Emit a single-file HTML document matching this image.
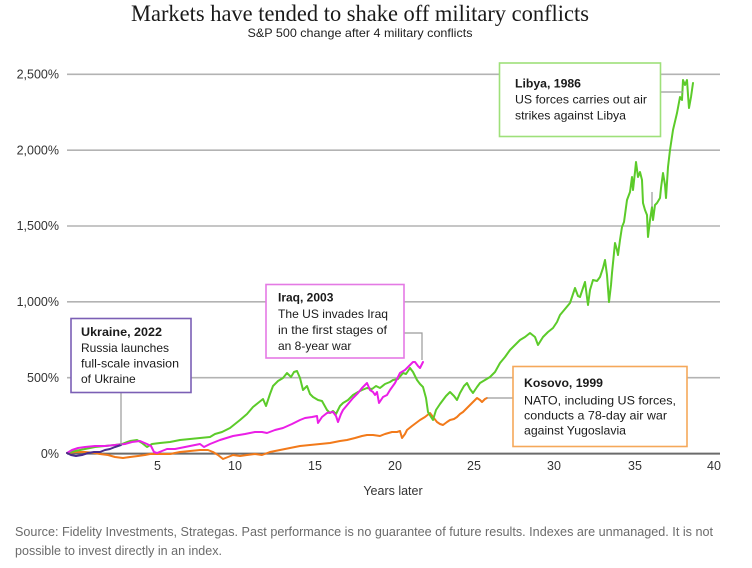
<!DOCTYPE html>
<html>
<head>
<meta charset="utf-8">
<style>
  html, body { margin: 0; padding: 0; background: #ffffff; }
  body { width: 752px; height: 568px; overflow: hidden; }
  svg { display: block; }
  .t { font-family: "Liberation Sans", "DejaVu Sans", sans-serif; }
</style>
</head>
<body>
<svg width="752" height="568" viewBox="0 0 752 568" xmlns="http://www.w3.org/2000/svg">
  <rect x="0" y="0" width="752" height="568" fill="#ffffff"/>

  <!-- Title -->
  <text x="360" y="21" text-anchor="middle" font-family="Liberation Serif, serif" font-size="23" fill="#1a1a1a" textLength="458" lengthAdjust="spacingAndGlyphs">Markets have tended to shake off military conflicts</text>
  <text class="t" x="360" y="37" text-anchor="middle" font-size="12" fill="#222" textLength="225" lengthAdjust="spacingAndGlyphs">S&amp;P 500 change after 4 military conflicts</text>

  <!-- Gridlines -->
  <g stroke="#b3b3b3" stroke-width="1.6">
    <line x1="67" y1="74.3" x2="720" y2="74.3"/>
    <line x1="67" y1="150.2" x2="720" y2="150.2"/>
    <line x1="67" y1="226" x2="720" y2="226"/>
    <line x1="67" y1="301.8" x2="720" y2="301.8"/>
    <line x1="67" y1="377.7" x2="720" y2="377.7"/>
  </g>
  <line x1="67" y1="453.6" x2="720" y2="453.6" stroke="#6b6b6b" stroke-width="2"/>

  <!-- Y labels -->
  <g class="t" font-size="12.5" fill="#333" text-anchor="end">
    <text x="59" y="78.5">2,500%</text>
    <text x="59" y="154.4">2,000%</text>
    <text x="59" y="230.2">1,500%</text>
    <text x="59" y="306">1,000%</text>
    <text x="59" y="381.9">500%</text>
    <text x="59" y="457.8">0%</text>
  </g>

  <!-- X labels -->
  <g class="t" font-size="12.5" fill="#333" text-anchor="middle">
    <text x="157.5" y="470">5</text>
    <text x="235" y="470">10</text>
    <text x="315" y="470">15</text>
    <text x="395" y="470">20</text>
    <text x="474" y="470">25</text>
    <text x="554" y="470">30</text>
    <text x="635" y="470">35</text>
    <text x="714" y="470">40</text>
  </g>
  <text class="t" x="393" y="495" text-anchor="middle" font-size="12.5" fill="#333">Years later</text>

  <!-- Series -->
  <g fill="none" stroke-width="2" stroke-linejoin="round" stroke-linecap="round">
    <!-- Kosovo (orange) -->
    <polyline stroke="#f27a1a" points="67,453 75,452 85,452 95,453 100,454 108,455 115,457 123,458 130,457 138,456 145,455 150,454 160,454 170,454 180,452 190,451 200,450 208,450 213,452 218,455 223,459 228,457 233,455 240,456 247,455 255,454 262,455 270,452 280,450 290,448 300,446 310,445 320,444 330,443 340,441 347,440 355,438 362,436 367,435 373,435 380,436 385,434 392,432 397,432 400,431 402,438 405,434 407,430 412,426 416,423 420,420 425,417 430,413 433,417 437,422 440,424 443,425 447,422 450,420 454,419 457,417 460,414 463,412 467,408 470,405 474,401 477,398 480,400 482,402 485,399 487,398"/>
    <!-- Libya (green) -->
    <polyline stroke="#5ccb2a" points="67,453 75,451 85,449 95,447 105,446 115,445 122,444 130,441 137,440 142,443 147,447 152,444 160,443 170,442 180,440 190,439 200,438 210,437 215,434 222,432 230,428 240,420 247,414 253,407 258,403 263,399 266,406 270,394 273,386 278,381 283,378 287,373 291,377 294,372 297,371 300,378 303,390 307,386 310,394 313,397 318,400 322,401 327,410 330,413 333,411 336,414 340,406 343,403 348,400 353,395 358,392 362,390 367,388 372,389 376,386 380,388 385,384 390,382 393,380 398,379 403,373 406,374 410,368 413,372 417,380 420,384 423,387 426,398 428,412 431,417 433,420 436,410 440,404 443,400 446,396 450,392 454,396 457,400 460,393 464,386 467,383 470,389 473,393 477,387 480,383 485,380 490,377 495,372 500,363 505,357 510,350 515,345 520,340 525,337 530,333 535,337 538,345 543,337 548,332 553,328 557,322 560,315 565,309 570,303 573,294 575,288 578,296 580,297 583,288 585,282 588,305 590,290 593,280 597,281 600,277 603,268 605,260 607,275 609,302 611,285 612,273 615,243 617,250 618,255 620,240 622,227 624,222 627,200 630,192 632,177 633,190 635,172 636,162 638,177 640,172 642,180 643,203 645,210 647,215 648,237 650,220 652,207 653,220 655,205 657,203 660,198 661,188 663,173 665,185 666,198 668,167 670,150 673,130 677,113 680,97 682,100 683,80 685,85 687,80 688,95 689,108 691,97 693,83"/>
    <!-- Iraq (magenta) -->
    <polyline stroke="#ea1fe6" points="67,453 72,450 78,448 85,447 95,446 105,446 115,445 125,444 132,442 140,441 147,444 151,446 154,452 157,453 162,451 167,449 175,449 185,447 195,445 200,444 204,447 210,444 220,440 233,436 245,434 255,432 262,432 267,433 275,430 283,428 292,424 300,420 305,418 312,417 317,416 318,423 322,417 327,413 333,412 336,416 338,422 341,414 343,410 348,404 353,398 358,393 362,388 365,385 367,383 370,390 373,392 375,395 377,392 379,403 381,400 383,397 387,395 390,390 395,383 400,373 405,370 410,365 413,362 415,362 418,366 420,368 423,362"/>
    <!-- Ukraine (purple) -->
    <polyline stroke="#4a2b8c" points="67,453 71,455 76,456 82,455 88,453 94,452 100,452 105,450 110,449 115,447 121,445"/>
  </g>

  <!-- Leader lines -->
  <g stroke="#9a9a9a" stroke-width="1.2" fill="none">
    <polyline points="121,393 121,445"/>
    <polyline points="404,333 422,333 422,360"/>
    <polyline points="661,92 683,92"/>
    <polyline points="487,398 513,398"/>
    <polyline points="652,192 652,207"/>
  </g>

  <!-- Ukraine box -->
  <rect x="71" y="318.5" width="120" height="74" fill="#fff" stroke="#7b5fb5" stroke-width="1.6"/>
  <g class="t" font-size="12" fill="#1a1a1a">
    <text x="81" y="336" font-weight="bold" textLength="81" lengthAdjust="spacingAndGlyphs">Ukraine, 2022</text>
    <text x="81" y="352" textLength="88" lengthAdjust="spacingAndGlyphs">Russia launches</text>
    <text x="81" y="367.5" textLength="98" lengthAdjust="spacingAndGlyphs">full-scale invasion</text>
    <text x="81" y="383">of Ukraine</text>
  </g>

  <!-- Iraq box -->
  <rect x="266" y="284.5" width="138" height="73.5" fill="#fff" stroke="#e47ae4" stroke-width="1.6"/>
  <g class="t" font-size="12" fill="#1a1a1a">
    <text x="278" y="301.5" font-weight="bold">Iraq, 2003</text>
    <text x="278" y="318" textLength="110" lengthAdjust="spacingAndGlyphs">The US invades Iraq</text>
    <text x="278" y="334" textLength="109" lengthAdjust="spacingAndGlyphs">in the first stages of</text>
    <text x="278" y="350">an 8-year war</text>
  </g>

  <!-- Libya box -->
  <rect x="499.5" y="63" width="161" height="73.5" fill="#fff" stroke="#9ee07a" stroke-width="1.6"/>
  <g class="t" font-size="12" fill="#1a1a1a">
    <text x="515" y="87.5" font-weight="bold" textLength="66" lengthAdjust="spacingAndGlyphs">Libya, 1986</text>
    <text x="515" y="103.5" textLength="132" lengthAdjust="spacingAndGlyphs">US forces carries out air</text>
    <text x="515" y="119.5" textLength="111" lengthAdjust="spacingAndGlyphs">strikes against Libya</text>
  </g>

  <!-- Kosovo box -->
  <rect x="513" y="366.5" width="174" height="80" fill="#fff" stroke="#f5a85a" stroke-width="1.6"/>
  <g class="t" font-size="12" fill="#1a1a1a">
    <text x="524" y="387" font-weight="bold" textLength="79" lengthAdjust="spacingAndGlyphs">Kosovo, 1999</text>
    <text x="524" y="404.5" textLength="152" lengthAdjust="spacingAndGlyphs">NATO, including US forces,</text>
    <text x="524" y="419.5" textLength="143" lengthAdjust="spacingAndGlyphs">conducts a 78-day air war</text>
    <text x="524" y="434.5" textLength="102" lengthAdjust="spacingAndGlyphs">against Yugoslavia</text>
  </g>

  <!-- Footer -->
  <g class="t" font-size="12.5" fill="#6b6b6b">
    <text x="15" y="536" textLength="698" lengthAdjust="spacingAndGlyphs">Source: Fidelity Investments, Strategas. Past performance is no guarantee of future results. Indexes are unmanaged. It is not</text>
    <text x="15" y="555" textLength="207" lengthAdjust="spacingAndGlyphs">possible to invest directly in an index.</text>
  </g>
</svg>
</body>
</html>
